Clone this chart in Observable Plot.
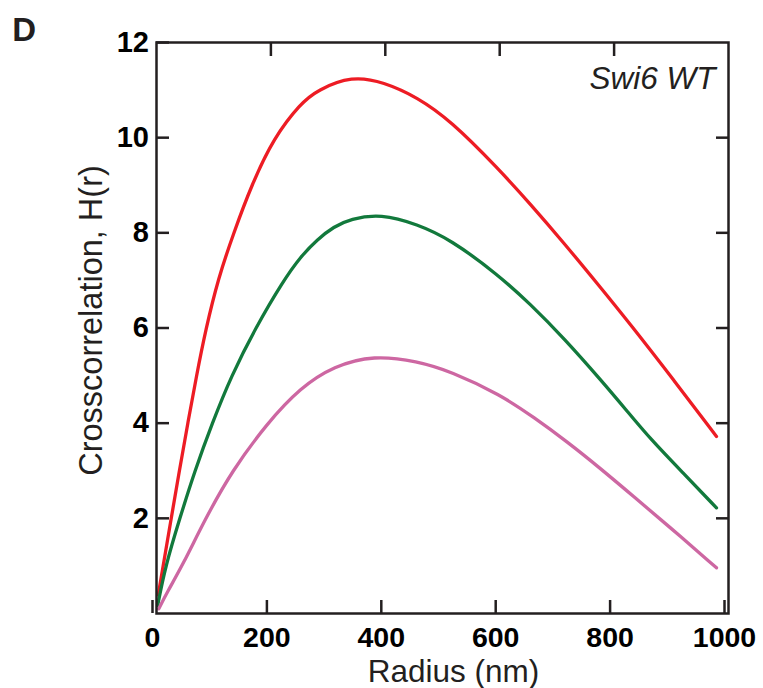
<!DOCTYPE html>
<html>
<head>
<meta charset="utf-8">
<script src="https://cdn.jsdelivr.net/npm/d3@7"></script>
<script src="https://cdn.jsdelivr.net/npm/@observablehq/plot@0.6"></script>
<style>
  html, body { margin: 0; padding: 0; background: #fff; }
</style>
</head>
<body>
<div id="chart"></div>
<script>
// Radius (nm) and H(r) for each series
const redRadius   = [3, 25.7, 40, 54.7, 70, 85.7, 108, 135, 166, 205, 252, 281, 342, 397, 456, 514, 596, 654, 712, 771, 829, 904, 979];
const redH        = [0.39, 2.0, 3.0, 4.0, 5.0, 5.95, 7.05, 8.0, 9.0, 10.0, 10.72, 11.0, 11.3, 11.17, 10.85, 10.36, 9.37, 8.6, 7.79, 6.93, 6.07, 4.91, 3.72];

const greenRadius = [2, 15.7, 40.7, 67, 97.4, 131, 173, 222, 252, 281, 310, 339, 392, 456, 514, 596, 654, 712, 779, 823, 864, 920, 979];
const greenH      = [0.17, 1.0, 2.0, 3.0, 4.0, 5.0, 6.0, 7.0, 7.5, 7.86, 8.13, 8.29, 8.4, 8.18, 7.86, 7.13, 6.5, 5.79, 4.88, 4.25, 3.66, 2.96, 2.22];

const pinkRadius  = [4, 18.7, 45, 85.7, 132, 193.5, 252, 310, 380, 456, 514, 601, 660, 718, 776, 834, 893, 979];
const pinkH       = [0.1, 0.45, 1.0, 2.0, 3.0, 4.0, 4.75, 5.2, 5.43, 5.3, 5.09, 4.6, 4.12, 3.61, 3.05, 2.46, 1.86, 0.96];

const xTicks = [0, 200, 400, 600, 800, 1000];
const yTicks = [2, 4, 6, 8, 10, 12];

const seriesNames  = ["S1", "S2", "S3"];
const seriesColors = ["#ed1c24", "#12793c", "#cd67a2"];
const toRows = (rs, hs, s) => rs.map((r, i) => ({r, h: hs[i], s}));
const rows = [
  ...toRows(redRadius, redH, seriesNames[0]),
  ...toRows(greenRadius, greenH, seriesNames[1]),
  ...toRows(pinkRadius, pinkH, seriesNames[2])
];

const ink = "#231f20";
const font = "'Liberation Sans', Arial, Helvetica, sans-serif";

const chart = Plot.plot({
  width: 763,
  height: 688,
  marginLeft: 156,
  marginRight: 35,
  marginTop: 42,
  marginBottom: 75,
  style: {fontFamily: font, background: "#fff", color: ink},
  x: {domain: [0, 1000]},
  y: {domain: [0, 12]},
  color: {domain: seriesNames, range: seriesColors},
  marks: [
    Plot.line(rows, {x: "r", y: "h", z: "s", stroke: "s", strokeWidth: 3.3, curve: "basis"}),
    Plot.frame({stroke: ink, strokeWidth: 2.5}),
    Plot.axisY(yTicks, {anchor: "left", tickSize: -13, tickPadding: 20.5, strokeWidth: 2.5, stroke: ink,
      fontSize: 29, fontWeight: "bold", fill: "#000", label: null, tickFormat: d3.format("d")}),
    Plot.axisY(yTicks.slice(0, -1), {anchor: "right", tickSize: -13, strokeWidth: 2.5, stroke: ink,
      tickFormat: () => "", label: null}),
    Plot.axisX(xTicks, {anchor: "bottom", tickSize: -13, tickPadding: 26.7, strokeWidth: 2.5, stroke: ink,
      fontSize: 28.5, fontWeight: "bold", fill: "#000", dx: -4, label: null, tickFormat: d3.format("d")}),
    Plot.axisX(xTicks.slice(1, -1), {anchor: "top", tickSize: -13, strokeWidth: 2.5, stroke: ink,
      tickFormat: () => "", label: null}),
    Plot.text(["Radius (nm)"], {frameAnchor: "bottom", textAnchor: "middle", lineAnchor: "bottom", dx: 11, dy: 68,
      fontSize: 31.5, fill: ink}),
    Plot.text(["Crosscorrelation, H(r)"], {frameAnchor: "left", textAnchor: "middle", lineAnchor: "bottom", rotate: -90,
      dx: -54.5, dy: -7.5, fontSize: 32.5, fill: ink}),
    Plot.text(["Swi6 WT"], {frameAnchor: "top-right", textAnchor: "end", lineAnchor: "bottom",
      dx: -13, dy: 46, fontSize: 31.5, fontStyle: "italic", fill: ink}),
    Plot.text(["D"], {frameAnchor: "top-left", textAnchor: "start", lineAnchor: "bottom",
      dx: -144.3, dy: -1.3, fontSize: 33, fontWeight: "bold", fill: ink})
  ]
});
document.getElementById("chart").appendChild(chart);
</script>
</body>
</html>
